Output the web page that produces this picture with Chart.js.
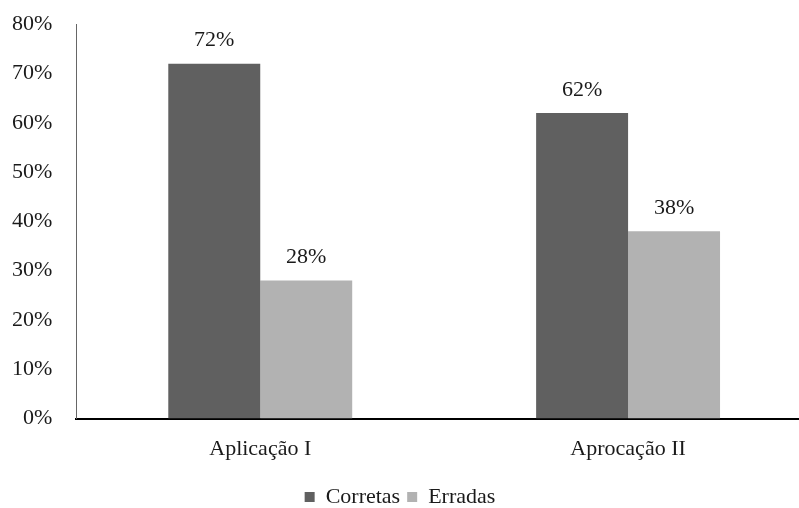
<!DOCTYPE html>
<html>
<head>
<meta charset="utf-8">
<script src="https://cdn.jsdelivr.net/npm/chart.js@4"></script>
<style>
  html, body { margin: 0; padding: 0; background: #fff; overflow: hidden; }
  #wrap { width: 799px; height: 508px; overflow: hidden; position: relative; }
  #box { width: 845px; height: 531px; position: absolute; left: 0; top: -13px; }
</style>
</head>
<body>
<div id="wrap"><div id="box"><canvas id="ch"></canvas></div></div>
<script>
// chart data
const categories = ['Aplicação I', 'Aprocação II'];
const corretas = [72, 62];
const erradas = [28, 38];
const yTicks = [0, 10, 20, 30, 40, 50, 60, 70, 80];

const FONT = "'Liberation Serif', 'Times New Roman', serif";
const FS = 22;

// draws the "72%" labels above each bar
const valueLabels = {
    id: 'valueLabels',
    afterDatasetsDraw(chart) {
        const ctx = chart.ctx;
        ctx.save();
        ctx.font = FS + 'px ' + FONT;
        ctx.fillStyle = '#1a1a1a';
        ctx.textAlign = 'center';
        ctx.textBaseline = 'middle';
        chart.data.datasets.forEach((ds, i) => {
            chart.getDatasetMeta(i).data.forEach((bar, j) => {
                ctx.fillText(ds.data[j] + '%', bar.x, bar.y - 23);
            });
        });
        ctx.restore();
    }
};

new Chart(document.getElementById('ch'), {
    type: 'bar',
    data: {
        labels: categories,
        datasets: [
            { label: 'Corretas', data: corretas, backgroundColor: '#606060', barPercentage: 1, categoryPercentage: 0.5 },
            { label: 'Erradas', data: erradas, backgroundColor: '#b2b2b2', barPercentage: 1, categoryPercentage: 0.5 }
        ]
    },
    options: {
        responsive: true,
        maintainAspectRatio: false,
        animation: false,
        layout: { padding: { top: 0, right: 33, left: -12, bottom: 0 } },
        scales: {
            x: {
                grid: { display: false, drawTicks: false },
                border: { display: true, color: '#000', width: 2 },
                ticks: { color: '#1a1a1a', font: { family: FONT, size: FS }, padding: 17 }
            },
            y: {
                min: 0,
                max: 80,
                afterBuildTicks(axis) { axis.ticks = yTicks.map(v => ({ value: v })); },
                grid: { display: false, drawTicks: false },
                border: { display: true, color: '#666', width: 1 },
                ticks: {
                    color: '#1a1a1a',
                    font: { family: FONT, size: FS },
                    padding: 24,
                    callback: v => v + '%'
                }
            }
        },
        plugins: {
            legend: {
                position: 'bottom',
                labels: {
                    boxWidth: 10,
                    boxHeight: 10,
                    padding: 7,
                    color: '#1a1a1a',
                    font: { family: FONT, size: FS }
                }
            },
            tooltip: { enabled: false }
        }
    },
    plugins: [valueLabels]
});
</script>
</body>
</html>
